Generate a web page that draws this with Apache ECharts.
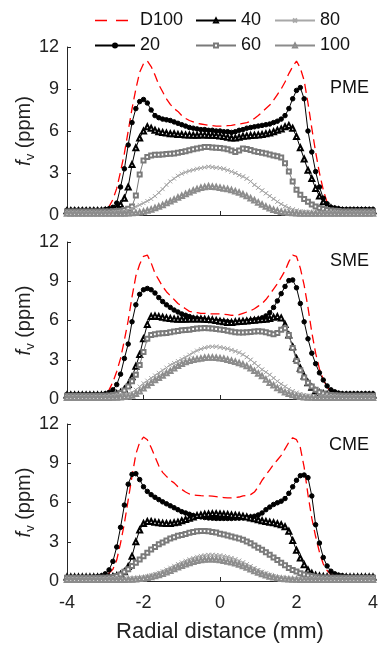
<!DOCTYPE html>
<html>
<head>
<meta charset="utf-8">
<script src="https://cdn.jsdelivr.net/npm/echarts@6/dist/echarts.min.js"></script>
<style>
html,body{margin:0;padding:0;background:#fff;}
#chart{width:382px;height:650px;}
</style>
</head>
<body>
<div id="chart"></div>
<script>
// Radial positions (mm)
const radial = [
-4.0,-3.9,-3.8,-3.7,-3.6,-3.5,-3.4,-3.3,-3.2,-3.1,
-3.0,-2.9,-2.8,-2.7,-2.6,-2.5,-2.4,-2.3,-2.2,-2.1,
-2.0,-1.9,-1.8,-1.7,-1.6,-1.5,-1.4,-1.3,-1.2,-1.1,
-1.0,-0.9,-0.8,-0.7,-0.6,-0.5,-0.4,-0.3,-0.2,-0.1,
0.0,0.1,0.2,0.3,0.4,0.5,0.6,0.7,0.8,0.9,
1.0,1.1,1.2,1.3,1.4,1.5,1.6,1.7,1.8,1.9,
2.0,2.1,2.2,2.3,2.4,2.5,2.6,2.7,2.8,2.9,
3.0,3.1,3.2,3.3,3.4,3.5,3.6,3.7,3.8,3.9,
4.0];

const seriesNames = ['D100','20','40','60','80','100'];
const panelLabels = ['PME','SME','CME'];
const xTicks = [-4,-2,0,2,4];
const yTicks = [0,3,6,9,12];

// ---- PME ----
const pmeD100 = [
0.3,0.3,0.3,0.3,0.3,0.3,0.3,0.3,0.3,0.3,
0.35,0.6,1.1,1.9,3.1,4.4,6.0,7.6,9.0,10.2,
10.8,11.0,10.6,10.0,9.3,8.8,8.3,7.9,7.6,7.4,
7.1,6.9,6.75,6.65,6.55,6.5,6.45,6.4,6.38,6.35,
6.35,6.35,6.38,6.4,6.45,6.5,6.55,6.6,6.7,6.9,
7.1,7.35,7.6,7.85,8.2,8.6,9.0,9.5,10.1,10.6,
11.0,10.5,9.6,8.0,6.2,4.5,3.0,1.8,0.9,0.5,
0.35,0.3,0.3,0.3,0.3,0.3,0.3,0.3,0.3,0.3,
0.3];
const pme20 = [
0.35,0.35,0.35,0.35,0.35,0.35,0.35,0.35,0.35,0.35,
0.4,0.45,0.55,0.85,2.0,3.3,5.0,6.6,7.6,8.1,
8.25,8.0,7.5,7.1,6.95,6.85,6.8,6.75,6.65,6.55,
6.45,6.35,6.25,6.2,6.15,6.1,6.1,6.05,6.05,6.0,
6.0,5.95,5.95,5.9,5.95,6.05,6.1,6.2,6.25,6.3,
6.35,6.4,6.45,6.5,6.6,6.7,6.85,7.1,7.6,8.3,
8.9,9.1,8.3,6.0,4.5,3.1,2.0,1.2,0.8,0.55,
0.5,0.45,0.4,0.4,0.4,0.4,0.4,0.4,0.4,0.4,
0.4];
const pme40 = [
0.3,0.3,0.3,0.3,0.3,0.3,0.3,0.3,0.3,0.3,
0.32,0.35,0.4,0.55,0.75,1.2,2.0,3.6,4.8,5.5,
6.0,6.3,6.2,6.05,5.95,5.9,5.85,5.8,5.8,5.75,
5.75,5.72,5.72,5.7,5.7,5.72,5.72,5.7,5.7,5.68,
5.65,5.6,5.55,5.5,5.5,5.55,5.62,5.65,5.68,5.7,
5.72,5.75,5.8,5.85,5.95,6.05,6.15,6.3,6.4,6.2,
5.6,4.8,4.0,3.2,2.6,1.9,1.35,0.95,0.65,0.5,
0.4,0.35,0.3,0.3,0.3,0.3,0.3,0.3,0.3,0.3,
0.3];
const pme60 = [
0.25,0.25,0.25,0.25,0.25,0.25,0.25,0.25,0.25,0.25,
0.25,0.25,0.27,0.28,0.3,0.35,0.45,0.6,1.4,2.9,
3.9,4.15,4.25,4.3,4.3,4.32,4.35,4.38,4.4,4.45,
4.5,4.55,4.62,4.7,4.75,4.8,4.85,4.85,4.82,4.8,
4.78,4.75,4.7,4.6,4.5,4.6,4.75,4.72,4.65,4.55,
4.5,4.45,4.4,4.32,4.25,4.2,4.1,3.7,3.1,2.4,
1.8,1.45,1.15,0.95,0.75,0.6,0.5,0.42,0.36,0.32,
0.3,0.28,0.25,0.25,0.25,0.25,0.25,0.25,0.25,0.25,
0.25];
const pme80 = [
0.15,0.15,0.15,0.15,0.15,0.15,0.15,0.15,0.15,0.15,
0.15,0.15,0.16,0.18,0.2,0.25,0.35,0.5,0.6,0.72,
0.85,1.0,1.15,1.35,1.6,1.85,2.15,2.4,2.6,2.8,
2.95,3.05,3.15,3.22,3.3,3.35,3.4,3.45,3.42,3.38,
3.35,3.3,3.2,3.1,3.0,2.85,2.75,2.6,2.4,2.15,
1.95,1.75,1.55,1.35,1.15,0.95,0.78,0.62,0.5,0.4,
0.32,0.26,0.22,0.2,0.18,0.17,0.16,0.15,0.15,0.15,
0.15,0.15,0.15,0.15,0.15,0.15,0.15,0.15,0.15,0.15,
0.15];
const pme100 = [
0.1,0.1,0.1,0.1,0.1,0.1,0.1,0.1,0.1,0.1,
0.1,0.1,0.1,0.1,0.1,0.1,0.12,0.14,0.16,0.2,
0.25,0.32,0.4,0.5,0.6,0.72,0.85,0.98,1.1,1.25,
1.38,1.5,1.62,1.75,1.85,1.95,2.0,2.05,2.02,2.0,
1.95,1.9,1.85,1.78,1.7,1.6,1.48,1.35,1.2,1.05,
0.9,0.75,0.6,0.48,0.38,0.3,0.24,0.2,0.16,0.14,
0.12,0.1,0.1,0.1,0.1,0.1,0.1,0.1,0.1,0.1,
0.1,0.1,0.1,0.1,0.1,0.1,0.1,0.1,0.1,0.1,
0.1];

// ---- SME ----
const smeD100 = [
0.3,0.3,0.3,0.3,0.3,0.3,0.3,0.3,0.3,0.3,
0.35,0.7,1.3,2.1,3.1,4.5,6.0,7.8,9.4,10.3,
10.9,11.0,10.4,9.6,9.1,8.6,8.2,7.9,7.6,7.3,
7.1,6.9,6.7,6.65,6.6,6.55,6.55,6.5,6.5,6.5,
6.5,6.48,6.45,6.4,6.37,6.45,6.55,6.65,6.75,6.9,
7.1,7.3,7.6,8.0,8.4,8.8,9.3,9.8,10.5,11.0,
10.9,10.0,8.7,7.0,5.1,3.5,2.3,1.5,0.9,0.55,
0.4,0.32,0.3,0.3,0.3,0.3,0.3,0.3,0.3,0.3,
0.3];
const sme20 = [
0.35,0.35,0.35,0.35,0.35,0.35,0.35,0.35,0.35,0.35,
0.4,0.5,0.7,1.1,1.9,3.1,4.2,5.9,7.2,8.0,
8.35,8.45,8.35,8.1,7.75,7.45,7.2,7.0,6.8,6.65,
6.5,6.4,6.3,6.2,6.15,6.1,6.05,6.0,5.98,5.95,
5.95,5.92,5.9,5.85,5.82,5.85,5.9,5.95,6.0,6.05,
6.1,6.2,6.35,6.6,7.0,7.5,8.05,8.6,9.05,9.1,
8.5,7.3,5.9,4.6,3.5,2.7,2.0,1.45,1.0,0.7,
0.55,0.45,0.4,0.4,0.4,0.4,0.4,0.4,0.4,0.4,
0.4];
const sme40 = [
0.3,0.3,0.3,0.3,0.3,0.3,0.3,0.3,0.3,0.3,
0.3,0.32,0.35,0.4,0.5,0.75,1.1,1.7,2.5,3.4,
4.6,5.7,6.3,6.35,6.3,6.25,6.2,6.15,6.12,6.1,
6.1,6.1,6.12,6.12,6.12,6.12,6.1,6.08,6.05,6.0,
5.95,5.9,5.85,5.85,5.9,5.92,5.95,5.97,6.0,6.02,
6.05,6.08,6.1,6.15,6.25,6.3,6.2,5.7,4.9,4.0,
3.1,2.35,1.75,1.25,0.9,0.62,0.48,0.4,0.35,0.32,
0.3,0.3,0.3,0.3,0.3,0.3,0.3,0.3,0.3,0.3,
0.3];
const sme60 = [
0.25,0.25,0.25,0.25,0.25,0.25,0.25,0.25,0.25,0.25,
0.25,0.27,0.3,0.35,0.45,0.65,0.95,1.35,1.85,2.6,
3.6,4.6,4.9,4.95,5.0,5.02,5.05,5.1,5.15,5.2,
5.25,5.28,5.3,5.35,5.38,5.4,5.42,5.4,5.38,5.35,
5.32,5.28,5.22,5.15,5.1,5.08,5.08,5.1,5.12,5.15,
5.18,5.15,5.1,5.02,4.95,5.05,5.3,5.4,4.9,3.9,
2.9,2.2,1.65,1.25,0.95,0.7,0.52,0.42,0.35,0.3,
0.28,0.26,0.25,0.25,0.25,0.25,0.25,0.25,0.25,0.25,
0.25];
const sme80 = [
0.15,0.15,0.15,0.15,0.15,0.15,0.15,0.15,0.15,0.15,
0.15,0.16,0.18,0.2,0.24,0.3,0.38,0.5,0.7,0.95,
1.2,1.4,1.6,1.8,2.0,2.2,2.4,2.6,2.75,2.9,
3.05,3.2,3.38,3.55,3.7,3.82,3.92,3.98,4.0,4.0,
3.95,3.9,3.85,3.75,3.65,3.55,3.4,3.2,3.0,2.75,
2.5,2.25,2.05,1.85,1.6,1.35,1.15,0.95,0.75,0.6,
0.48,0.38,0.3,0.25,0.22,0.2,0.18,0.17,0.16,0.15,
0.15,0.15,0.15,0.15,0.15,0.15,0.15,0.15,0.15,0.15,
0.15];
const sme100 = [
0.1,0.1,0.1,0.1,0.1,0.1,0.1,0.1,0.1,0.1,
0.1,0.1,0.11,0.12,0.14,0.17,0.2,0.26,0.4,0.6,
0.82,1.05,1.25,1.45,1.62,1.8,1.98,2.15,2.35,2.55,
2.7,2.82,2.92,3.0,3.05,3.1,3.15,3.18,3.18,3.15,
3.12,3.08,3.0,2.92,2.85,2.75,2.65,2.52,2.35,2.15,
1.95,1.75,1.5,1.25,1.05,0.85,0.68,0.52,0.4,0.3,
0.22,0.17,0.14,0.12,0.11,0.1,0.1,0.1,0.1,0.1,
0.1,0.1,0.1,0.1,0.1,0.1,0.1,0.1,0.1,0.1,
0.1];

// ---- CME ----
const cmeD100 = [
0.3,0.3,0.3,0.3,0.3,0.3,0.3,0.3,0.3,0.3,
0.4,0.6,0.9,1.6,2.9,4.4,6.2,8.0,9.7,10.6,
11.0,10.8,10.2,9.5,8.8,8.3,8.0,7.7,7.5,7.2,
7.0,6.8,6.65,6.58,6.55,6.52,6.5,6.5,6.48,6.45,
6.4,6.38,6.35,6.35,6.38,6.42,6.5,6.55,6.6,6.8,
7.2,7.7,8.1,8.5,8.9,9.25,9.6,10.1,10.6,10.95,
10.8,10.2,8.7,6.6,4.8,3.4,2.2,1.3,0.8,0.5,
0.38,0.32,0.3,0.3,0.3,0.3,0.3,0.3,0.3,0.3,
0.3];
const cme20 = [
0.3,0.3,0.3,0.3,0.3,0.3,0.3,0.32,0.35,0.4,
0.55,0.85,1.5,2.6,4.1,5.8,7.4,8.15,8.2,7.75,
7.2,6.85,6.6,6.4,6.22,6.05,5.9,5.75,5.6,5.45,
5.3,5.2,5.1,5.0,4.95,4.9,4.85,4.82,4.8,4.78,
4.78,4.78,4.78,4.78,4.8,4.8,4.82,4.85,4.9,4.95,
5.05,5.2,5.45,5.65,5.85,5.98,6.1,6.3,6.7,7.2,
7.7,8.05,8.1,7.9,6.5,4.3,2.9,1.8,1.15,0.75,
0.55,0.45,0.4,0.35,0.32,0.32,0.32,0.32,0.32,0.32,
0.32];
const cme40 = [
0.3,0.3,0.3,0.3,0.3,0.3,0.3,0.3,0.3,0.3,
0.3,0.32,0.35,0.4,0.5,0.7,1.1,1.9,3.0,3.9,
4.4,4.55,4.55,4.5,4.45,4.42,4.4,4.4,4.45,4.5,
4.6,4.7,4.8,4.9,5.0,5.05,5.1,5.12,5.15,5.15,
5.12,5.1,5.08,5.05,5.02,5.0,4.95,4.9,4.82,4.75,
4.68,4.6,4.55,4.5,4.45,4.38,4.3,4.15,3.8,3.1,
2.35,1.75,1.25,0.85,0.6,0.45,0.38,0.34,0.32,0.3,
0.3,0.3,0.3,0.3,0.3,0.3,0.3,0.3,0.3,0.3,
0.3];
const cme60 = [
0.25,0.25,0.25,0.25,0.25,0.25,0.25,0.25,0.25,0.25,
0.25,0.27,0.3,0.38,0.5,0.7,0.9,1.15,1.4,1.65,
1.9,2.15,2.4,2.6,2.8,2.95,3.1,3.25,3.35,3.45,
3.52,3.6,3.68,3.75,3.8,3.82,3.82,3.8,3.75,3.7,
3.62,3.55,3.48,3.4,3.32,3.25,3.15,3.02,2.88,2.72,
2.55,2.38,2.2,2.0,1.8,1.6,1.4,1.2,1.0,0.85,
0.72,0.6,0.5,0.42,0.36,0.32,0.29,0.27,0.26,0.25,
0.25,0.25,0.25,0.25,0.25,0.25,0.25,0.25,0.25,0.25,
0.25];
const cme80 = [
0.15,0.15,0.15,0.15,0.15,0.15,0.15,0.15,0.15,0.15,
0.15,0.15,0.15,0.15,0.16,0.17,0.18,0.2,0.22,0.25,
0.3,0.36,0.44,0.53,0.63,0.75,0.88,1.02,1.16,1.3,
1.42,1.55,1.66,1.76,1.85,1.92,1.97,2.0,2.0,1.98,
1.95,1.9,1.84,1.76,1.66,1.55,1.42,1.28,1.13,0.98,
0.84,0.7,0.58,0.47,0.38,0.3,0.25,0.21,0.18,0.16,
0.15,0.15,0.15,0.15,0.15,0.15,0.15,0.15,0.15,0.15,
0.15,0.15,0.15,0.15,0.15,0.15,0.15,0.15,0.15,0.15,
0.15];
const cme100 = [
0.1,0.1,0.1,0.1,0.1,0.1,0.1,0.1,0.1,0.1,
0.1,0.1,0.1,0.1,0.1,0.1,0.11,0.12,0.14,0.17,
0.2,0.25,0.31,0.38,0.46,0.56,0.67,0.79,0.92,1.05,
1.17,1.28,1.38,1.47,1.54,1.6,1.64,1.66,1.66,1.64,
1.6,1.55,1.5,1.43,1.35,1.26,1.15,1.03,0.9,0.77,
0.65,0.54,0.44,0.35,0.28,0.22,0.18,0.15,0.13,0.12,
0.11,0.1,0.1,0.1,0.1,0.1,0.1,0.1,0.1,0.1,
0.1,0.1,0.1,0.1,0.1,0.1,0.1,0.1,0.1,0.1,
0.1];

const panels = [
  [pmeD100, pme20, pme40, pme60, pme80, pme100],
  [smeD100, sme20, sme40, sme60, sme80, sme100],
  [cmeD100, cme20, cme40, cme60, cme80, cme100]
];

const FONT = '"Liberation Sans", Arial, Helvetica, sans-serif';
const AX = '#262626';
const xMark = 'path://M0,0L10,10M10,0L0,10Z';

const styles = [
  {color:'#ff0000', symbol:'none', size:0, lineType:[9,5], lw:1.3},
  {color:'#000000', symbol:'circle', size:4.5, lineType:'solid', lw:1},
  {color:'#000000', symbol:'emptyTriangle', size:5, lineType:'solid', lw:1},
  {color:'#7a7a7a', symbol:'emptyRect', size:4, lineType:'solid', lw:1},
  {color:'#a8a8a8', symbol:xMark, size:4, lineType:'solid', lw:1},
  {color:'#8c8c8c', symbol:'emptyTriangle', size:4.5, lineType:'solid', lw:1}
];

const gridBoxes = [
  {left:67, right:9, top:47, height:168},
  {left:67, right:9, top:242, height:157},
  {left:67, right:9, top:424, height:157}
];
const labelTops = [79, 252, 436];

const grid = [], xAxis = [], yAxis = [], series = [], graphic = [];
gridBoxes.forEach((g, p) => {
  grid.push(Object.assign({containLabel:false}, g));
  xAxis.push({
    type:'value', gridIndex:p, min:xTicks[0], max:xTicks[xTicks.length-1], interval:2,
    axisLine:{show:true, onZero:false, lineStyle:{color:AX, width:1}},
    axisTick:{show:true, inside:true, length:4, lineStyle:{color:AX}},
    axisLabel:{show:p===2, color:'#222', fontSize:18, fontFamily:FONT, margin:13},
    splitLine:{show:false},
    name: p===2 ? 'Radial distance (mm)' : '',
    nameLocation:'middle', nameGap:40, nameMoveOverlap:false,
    nameTextStyle:{color:'#222', fontSize:22, fontFamily:FONT}
  });
  yAxis.push({
    type:'value', gridIndex:p, min:yTicks[0], max:yTicks[yTicks.length-1], interval:3,
    axisLine:{show:true, onZero:false, lineStyle:{color:AX, width:1}},
    axisTick:{show:true, inside:true, length:4, lineStyle:{color:AX}},
    axisLabel:{color:'#222', fontSize:18, fontFamily:FONT, margin:8},
    splitLine:{show:false},
    name:'{i|f}{s|v}{t| (ppm)}',
    nameLocation:'middle', nameGap:30, nameRotate:90, nameMoveOverlap:false,
    nameTextStyle:{
      rich:{
        i:{fontSize:20, fontStyle:'italic', fontFamily:FONT, color:'#222', lineHeight:26, verticalAlign:'middle'},
        s:{fontSize:13, fontFamily:FONT, color:'#222', lineHeight:26, verticalAlign:'bottom'},
        t:{fontSize:20, fontFamily:FONT, color:'#222', lineHeight:26, verticalAlign:'middle'}
      }
    }
  });
  panels[p].forEach((vals, k) => {
    const st = styles[k];
    const isX = k === 4;
    series.push({
      name: seriesNames[k], type:'line', xAxisIndex:p, yAxisIndex:p,
      data: radial.map((x, i) => [x, vals[i]]),
      symbol: st.symbol, symbolSize: st.size, showSymbol: st.symbol !== 'none',
      lineStyle:{color:st.color, width:st.lw, type:st.lineType},
      itemStyle: isX ? {color:'rgba(0,0,0,0)', borderColor:st.color, borderWidth:1}
                     : {color:st.color, borderColor:st.color, borderWidth:1},
      emphasis:{disabled:true}, animation:false, silent:true, z: 2 + k
    });
  });
  graphic.push({type:'text', right:13, top:labelTops[p],
    style:{text:panelLabels[p], fontSize:18, fontFamily:FONT, fill:'#111'}});
});

const legendBase = {
  orient:'vertical', top:6, itemWidth:40, itemHeight:5, itemGap:6,
  selectedMode:false,
  textStyle:{fontSize:18, fontFamily:FONT, color:'#111', lineHeight:19}
};
const legend = [
  Object.assign({}, legendBase, {left:89, data:[
    {name:seriesNames[0], itemStyle:{opacity:0}, lineStyle:{type:[12,9], width:1.3}},
    {name:seriesNames[1]}]}),
  Object.assign({}, legendBase, {left:190, data:[seriesNames[2], seriesNames[3]]}),
  Object.assign({}, legendBase, {left:269, data:[seriesNames[4], seriesNames[5]]})
];

const chart = echarts.init(document.getElementById('chart'), null, {renderer:'canvas'});
chart.setOption({
  backgroundColor:'#ffffff',
  animation:false,
  grid, xAxis, yAxis, series, legend, graphic
});
</script>
</body>
</html>
